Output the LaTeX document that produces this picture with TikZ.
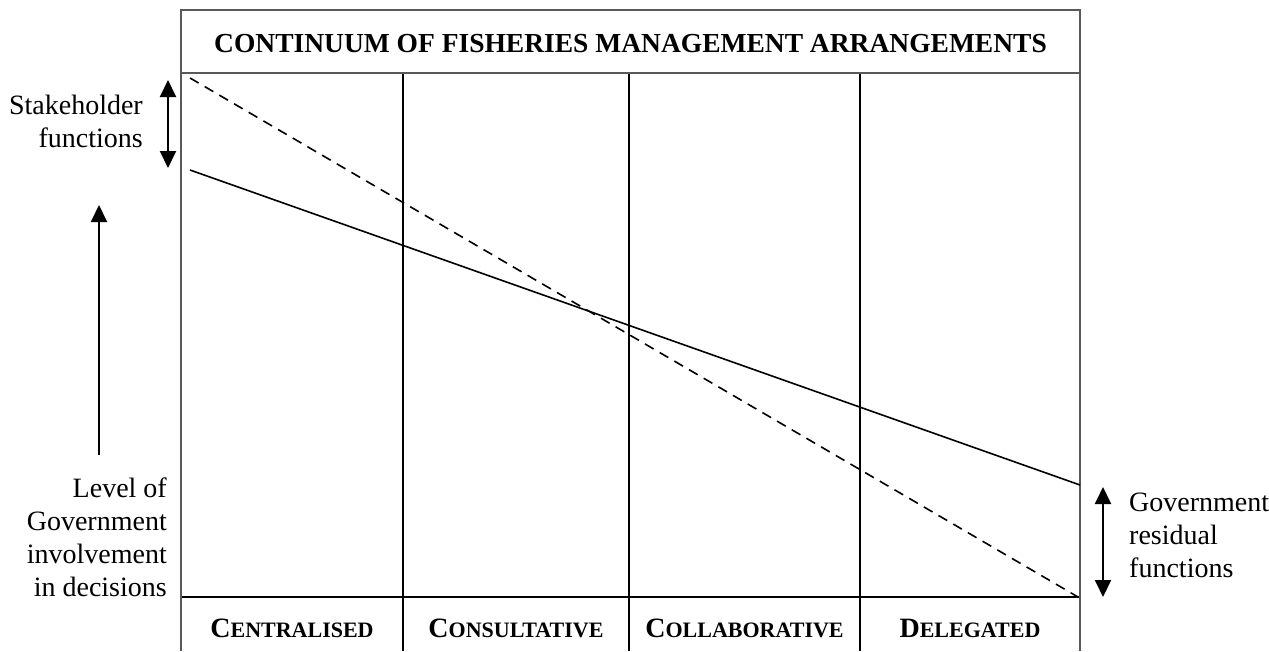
\documentclass[tikz,border=0pt]{standalone}
\usepackage{fontspec}
\setmainfont{Liberation Serif}
\usetikzlibrary{arrows.meta}
\begin{document}
\begin{tikzpicture}[x=1pt,y=-1pt,
  frame/.style={draw=black!65, line width=2pt},
  divider/.style={draw=black, line width=1.5pt},
  trend/.style={draw=black, line width=1.6pt},
  dashtrend/.style={draw=black, line width=1.6pt, dash pattern=on 10pt off 7pt},
  dblarrow/.style={line width=2pt, {Triangle[length=17pt,width=16pt]}-{Triangle[length=17pt,width=16pt]}},
  uparrow/.style={line width=2pt, -{Triangle[length=17pt,width=16pt]}},
  lbl/.style={font=\fontsize{28}{33}\selectfont, inner sep=0pt},
  colhead/.style={font=\fontsize{28}{33}\selectfont\bfseries, inner sep=0pt, anchor=base},
  title/.style={font=\fontsize{27.5}{32}\selectfont\bfseries, inner sep=0pt, anchor=base}
]
\useasboundingbox (0,0) rectangle (1269,651);

% frame corners and grid points
\coordinate (tl) at (181,10);
\coordinate (tr) at (1080,10);
\coordinate (bl) at (181,651);
\coordinate (br) at (1080,651);
\coordinate (hl) at (181,73);
\coordinate (hr) at (1080,73);
\coordinate (fl) at (181,597);
\coordinate (fr) at (1080,597);
\coordinate (c1t) at (403,73);  \coordinate (c1b) at (403,651);
\coordinate (c2t) at (629,73);  \coordinate (c2b) at (629,651);
\coordinate (c3t) at (860,73);  \coordinate (c3b) at (860,651);

% column dividers and floor line
\draw[divider] (c1t) -- (c1b);
\draw[divider] (c2t) -- (c2b);
\draw[divider] (c3t) -- (c3b);
\draw[divider] (fl) -- (fr);

% outer frame and header rule
\draw[frame] (bl) -- (tl) -- (tr) -- (br);
\draw[frame] (hl) -- (hr);

% trend lines
\coordinate (d0) at (190,78);
\coordinate (d1) at (1078,597);
\coordinate (s0) at (190,170);
\coordinate (s1) at (1080,485);
\draw[dashtrend] (d0) -- (d1);
\draw[trend] (s0) -- (s1);

% heading
\node[title] (head) at (630.5,52) {CONTINUUM OF FISHERIES MANAGEMENT ARRANGEMENTS};

% column labels
\node[colhead] (cen) at (292,637) {C\fontsize{22}{26}\selectfont ENTRALISED};
\node[colhead] (con) at (516,637) {C\fontsize{22}{26}\selectfont ONSULTATIVE};
\node[colhead] (col) at (744.5,637) {C\fontsize{22}{26}\selectfont OLLABORATIVE};
\node[colhead] (del) at (970,637) {D\fontsize{22}{26}\selectfont ELEGATED};

% stakeholder functions
\coordinate (sa0) at (168,80);
\coordinate (sa1) at (168,168);
\draw[dblarrow] (sa0) -- (sa1);
\node[lbl, align=right, anchor=east] (stake) at (143,121) {Stakeholder\\functions};

% government involvement
\coordinate (ga0) at (99,455);
\coordinate (ga1) at (99,205);
\draw[uparrow] (ga0) -- (ga1);
\node[lbl, align=right, anchor=north east] (gov) at (167,478) {Level of\\Government\\involvement\\in decisions};

% government residual functions
\coordinate (ra0) at (1103,487);
\coordinate (ra1) at (1103,597);
\draw[dblarrow] (ra0) -- (ra1);
\node[lbl, align=left, anchor=north west] (resid) at (1129,493) {Government\\residual\\functions};
\end{tikzpicture}
\end{document}
